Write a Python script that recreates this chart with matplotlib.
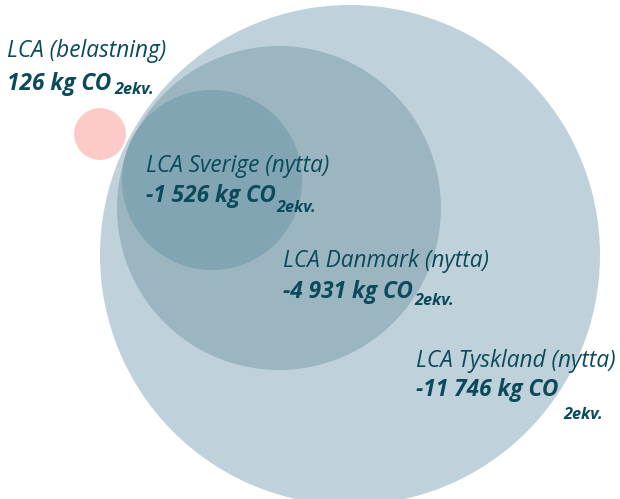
import numpy as np
import matplotlib.pyplot as plt
from matplotlib.patches import Circle

# ==============================
# DATA
# ==============================
labels = ["LCA (belastning)", "LCA Tyskland (nytta)", "LCA Danmark (nytta)", "LCA Sverige (nytta)"]
values = [126, -11746, -4931, -1526]
value_texts = ["126 kg CO", "-11 746 kg CO", "-4 931 kg CO", "-1 526 kg CO"]
unit_sub = "2ekv."

# ==============================
# LAYOUT (pixels, y downwards)
# ==============================
centers = [(100, 134), (350, 255), (279, 208), (212, 180)]
colors = ["#fdcaca", "#bfd1da", "#9cb6c1", "#81a5b3"]
label_pos = [(7, 57), (416, 367), (283, 267), (146, 172)]
value_pos = [(7, 90), (416, 396), (283, 298), (146, 202)]
sub_drop = [3, 22, 6, 9]     # px below main baseline
sub_gap = [3, 5, 2, 1]
text_color = "#0b4a5a"
descent = 5.4

scale = 250 / np.sqrt(abs(values[1]))  # area ~ value

fig = plt.figure(figsize=(6.2, 4.99), dpi=100)
ax = fig.add_axes([0, 0, 1, 1])
ax.set_xlim(0, 620)
ax.set_ylim(499, 0)
ax.set_aspect("equal")
ax.axis("off")

for (cx, cy), v, c in zip(centers, values, colors):
    ax.add_patch(Circle((cx, cy), scale * np.sqrt(abs(v)), color=c, lw=0))

font = "Open Sans"
for i in range(len(labels)):
    ax.text(*label_pos[i], labels[i], fontsize=16.3, fontstyle="italic",
            family=font, color=text_color, va="baseline", ha="left")
    t = ax.text(*value_pos[i], value_texts[i], fontsize=16.3, fontstyle="italic",
                fontweight="bold", family=font, color=text_color,
                va="baseline", ha="left")
    ax.annotate(unit_sub, xy=(1, 0), xycoords=t,
                xytext=(sub_gap[i], descent - sub_drop[i]),
                textcoords="offset pixels", fontsize=11.7, fontstyle="italic",
                fontweight="bold", family=font, color=text_color,
                va="baseline", ha="left")

plt.savefig("out.png", dpi=100)
